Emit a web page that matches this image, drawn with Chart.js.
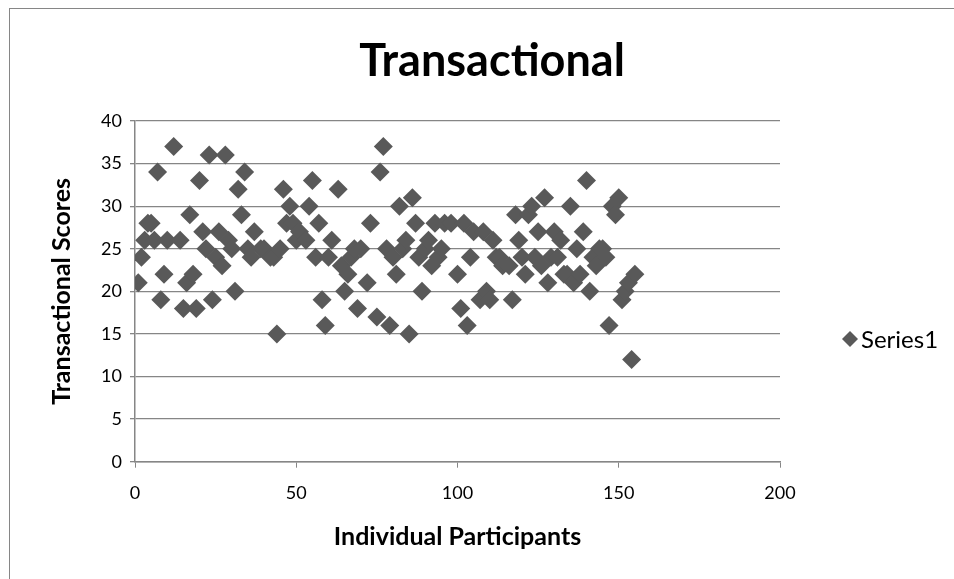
<!DOCTYPE html>
<html>
<head>
<meta charset="utf-8">
<script src="https://cdn.jsdelivr.net/npm/chart.js@4/dist/chart.umd.min.js"></script>
<style>
  html, body { margin: 0; padding: 0; background: #ffffff; }
  #wrap { width: 954px; height: 579px; position: relative; }
</style>
</head>
<body>
<div id="wrap"><canvas id="chart" width="954" height="579"></canvas></div>
<script>
// Participant numbers and their transactional scores
const participants = [1,2,3,4,5,6,7,8,9,10,12,14,15,16,17,18,19,20,21,22,23,24,25,26,27,28,29,30,31,32,33,34,35,36,37,39,40,42,43,44,45,46,47,48,49,50,51,53,54,55,56,57,58,59,60,61,63,64,65,66,67,68,69,70,72,73,75,76,77,78,79,80,81,82,83,84,85,86,87,88,89,90,91,92,93,94,95,96,98,100,101,102,103,104,105,107,108,109,110,111,112,113,114,116,117,118,119,120,121,122,123,124,125,126,127,128,129,130,131,132,133,134,135,136,137,138,139,140,141,142,143,144,145,146,147,148,149,150,151,152,153,154,155];
const scores = [21,24,26,28,28,26,34,19,22,26,37,26,18,21,29,22,18,33,27,25,36,19,24,27,23,36,26,25,20,32,29,34,25,24,27,25,25,24,24,15,25,32,28,30,28,26,27,26,30,33,24,28,19,16,24,26,32,23,20,22,24,25,18,25,21,28,17,34,37,25,16,24,22,30,25,26,15,31,28,24,20,25,26,23,28,24,25,28,28,22,18,28,16,24,27,19,27,20,19,26,24,24,23,23,19,29,26,24,22,29,30,24,27,23,31,21,24,27,24,26,22,22,30,21,25,22,27,33,20,24,23,25,25,24,16,30,29,31,19,20,21,12,22];

const seriesName = 'Series1';
const chartTitle = 'Transactional';
const xTitle = 'Individual Participants';
const yTitle = 'Transactional Scores';

const markColor = '#595959';
const gridColor = '#868686';
const FONT = 'Lato, "Open Sans", sans-serif';

// Outer frame of the chart object and the heading above the plot
const framePlugin = {
  id: 'frame',
  beforeDraw(chart) {
    const ctx = chart.ctx;
    ctx.save();
    ctx.fillStyle = '#ffffff';
    ctx.fillRect(0, 0, chart.width, chart.height);
    ctx.strokeStyle = '#868686';
    ctx.lineWidth = 1;
    ctx.strokeRect(9.5, 8.5, chart.width + 20, chart.height + 20);
    ctx.restore();
  },
  afterDraw(chart) {
    const ctx = chart.ctx;
    ctx.save();
    ctx.fillStyle = '#000000';
    ctx.font = 'bold 45px ' + FONT;
    ctx.textAlign = 'center';
    ctx.textBaseline = 'middle';
    ctx.fillText(chartTitle, 492, 61);
    ctx.restore();
  }
};

// Legend entry placed to the right of the plot
const sideLegend = {
  id: 'sideLegend',
  afterDraw(chart) {
    const ctx = chart.ctx;
    const ds = chart.data.datasets[0];
    const y = 339;
    ctx.save();
    ctx.fillStyle = ds.backgroundColor;
    Chart.helpers.drawPoint(ctx, { pointStyle: 'rectRot', radius: 8, rotation: 0, borderWidth: 0 }, 850, y);
    ctx.fillStyle = '#000000';
    ctx.font = '24px ' + FONT;
    ctx.textBaseline = 'middle';
    ctx.textAlign = 'left';
    ctx.fillText(ds.label, 861, y + 1);
    ctx.restore();
  }
};

new Chart(document.getElementById('chart'), {
  type: 'scatter',
  data: {
    datasets: [{
      label: seriesName,
      data: participants.map((p, i) => ({ x: p, y: scores[i] })),
      pointStyle: 'rectRot',
      pointRadius: 9.5,
      pointHoverRadius: 9.5,
      backgroundColor: markColor,
      borderColor: markColor,
      borderWidth: 0
    }]
  },
  options: {
    responsive: false,
    animation: false,
    events: [],
    layout: { padding: { left: 30, right: 174, top: 121, bottom: 0 } },
    plugins: {
      legend: { display: false },
      tooltip: { enabled: false },
      title: { display: false }
    },
    scales: {
      x: {
        type: 'linear',
        min: 0, max: 200,
        ticks: { stepSize: 50, color: '#000000', font: { family: FONT, size: 18 }, padding: 15 },
        grid: { display: true, drawOnChartArea: false, drawTicks: true, tickLength: 6, color: gridColor, lineWidth: 1 },
        border: { display: true, color: gridColor, width: 1.5 },
        title: {
          display: true, text: xTitle, color: '#000000',
          font: { family: FONT, size: 25, weight: 'bold' },
          padding: { top: 0, bottom: 27 }
        },
        afterFit(scale) { scale.height = 579 - 461.7; }
      },
      y: {
        type: 'linear',
        min: 0, max: 40,
        ticks: { stepSize: 5, color: '#000000', font: { family: FONT, size: 18 }, padding: 8 },
        grid: { display: true, drawOnChartArea: true, drawTicks: true, tickLength: 5, color: gridColor, lineWidth: 1.3 },
        border: { display: true, color: gridColor, width: 1.5 },
        title: {
          display: true, text: yTitle, color: '#000000',
          font: { family: FONT, size: 25, weight: 'bold' },
          padding: { top: 17, bottom: 0 }
        },
        afterFit(scale) { scale.width = 135 - 30; }
      }
    }
  },
  plugins: [framePlugin, sideLegend]
});
</script>
</body>
</html>
